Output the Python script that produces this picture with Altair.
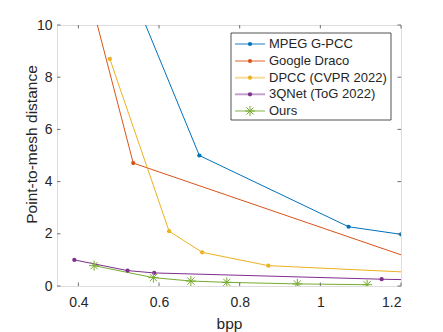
import altair as alt
import pandas as pd

series_names = ["MPEG G-PCC", "Google Draco", "DPCC (CVPR 2022)", "3QNet (ToG 2022)", "Ours"]
colors = ["#0072BD", "#D95319", "#EDB120", "#7E2F8E", "#77AC30"]

gpcc_bpp = [0.50, 0.70, 1.07, 1.20]
gpcc_dist = [12.5, 5.00, 2.27, 1.98]
draco_bpp = [0.40, 0.536, 1.35]
draco_dist = [12.8, 4.71, 0.40]
dpcc_bpp = [0.478, 0.625, 0.707, 0.871, 1.30]
dpcc_dist = [8.70, 2.10, 1.29, 0.78, 0.47]
qnet_bpp = [0.39, 0.522, 0.588, 1.152, 1.35]
qnet_dist = [1.00, 0.59, 0.50, 0.26, 0.20]
ours_bpp = [0.439, 0.586, 0.679, 0.768, 0.943, 1.116]
ours_dist = [0.78, 0.32, 0.19, 0.14, 0.08, 0.05]

x_ticks = [0.4, 0.6, 0.8, 1.0, 1.2]
y_ticks = [0, 2, 4, 6, 8, 10]

W, H = 344, 261
FONT = "Liberation Sans"
TXT = "#262626"
AX = "#6e6e6e"
STAR = "M0,-1L0,1M-1,0L1,0M-0.72,-0.72L0.72,0.72M-0.72,0.72L0.72,-0.72"

rows = []
for name, xs, ys in [
    (series_names[0], gpcc_bpp, gpcc_dist),
    (series_names[1], draco_bpp, draco_dist),
    (series_names[2], dpcc_bpp, dpcc_dist),
    (series_names[3], qnet_bpp, qnet_dist),
    (series_names[4], ours_bpp, ours_dist),
]:
    for i, (a, b) in enumerate(zip(xs, ys)):
        rows.append({"series": name, "bpp": a, "dist": b, "ord": i})
df = pd.DataFrame(rows)

xscale = alt.Scale(domain=[0.347, 1.2], nice=False, zero=False)
yscale = alt.Scale(domain=[0, 10], nice=False)
cscale = alt.Scale(domain=series_names, range=colors)

xaxis = alt.Axis(values=x_ticks, format="~g", tickSize=0, domain=False, grid=False,
                 labelFont=FONT, labelFontSize=14, labelColor=TXT, labelPadding=9,
                 title="bpp", titleFont=FONT, titleFontSize=15.5, titleFontWeight="normal",
                 titleColor=TXT, titleY=37, titleBaseline="middle")
yaxis = alt.Axis(values=y_ticks, tickSize=0, domain=False, grid=False,
                 labelFont=FONT, labelFontSize=14, labelColor=TXT, labelPadding=5,
                 title="Point-to-mesh distance", titleFont=FONT, titleFontSize=15.5,
                 titleFontWeight="normal", titleColor=TXT, titleX=-26, titleY=119,
                 titleAngle=270, titleAlign="center", titleBaseline="middle")

base = alt.Chart(df)
lines = base.mark_line(clip=True, strokeWidth=1).encode(
    x=alt.X("bpp:Q", scale=xscale, axis=xaxis),
    y=alt.Y("dist:Q", scale=yscale, axis=yaxis),
    color=alt.Color("series:N", scale=cscale, legend=None),
    order="ord:Q",
    detail="series:N",
)
dots = base.transform_filter(alt.datum.series != "Ours").mark_circle(clip=True, size=18, opacity=1).encode(
    x="bpp:Q", y="dist:Q", color=alt.Color("series:N", scale=cscale, legend=None)
)
stars = base.transform_filter(alt.datum.series == "Ours").mark_point(
    clip=True, shape=STAR, size=100, filled=False, strokeWidth=1, opacity=1
).encode(x="bpp:Q", y="dist:Q", color=alt.Color("series:N", scale=cscale, legend=None))

xt = pd.DataFrame({"v": x_ticks})
yt = pd.DataFrame({"v": y_ticks})
tk = 3.5
ticks = [
    alt.Chart(xt).mark_rule(color=AX, strokeWidth=1).encode(x="v:Q", y=alt.value(H), y2=alt.value(H - tk)),
    alt.Chart(xt).mark_rule(color=AX, strokeWidth=1).encode(x="v:Q", y=alt.value(0), y2=alt.value(tk)),
    alt.Chart(yt).mark_rule(color=AX, strokeWidth=1).encode(y="v:Q", x=alt.value(0), x2=alt.value(tk)),
    alt.Chart(yt).mark_rule(color=AX, strokeWidth=1).encode(y="v:Q", x=alt.value(W), x2=alt.value(W - tk)),
]

# legend
leg = pd.DataFrame({"series": series_names})
box = alt.Chart(leg.head(1)).mark_rect(fill="white", stroke=TXT, strokeWidth=0.8).encode(
    x=alt.value(174), x2=alt.value(334), y=alt.value(8), y2=alt.value(95)
)
legend_layers = [box]
row_y = [19, 36, 52.7, 69.3, 86]
for name, col, yy in zip(series_names, colors, row_y):
    d = pd.DataFrame({"series": [name]})
    legend_layers.append(
        alt.Chart(d).mark_rule(color=col, strokeWidth=2, opacity=0.45).encode(
            x=alt.value(178), x2=alt.value(208), y=alt.value(yy))
    )
    if name == "Ours":
        legend_layers.append(
            alt.Chart(d).mark_point(shape=STAR, size=100, filled=False, strokeWidth=1, color=col, opacity=1).encode(
                x=alt.value(193), y=alt.value(yy))
        )
    else:
        legend_layers.append(
            alt.Chart(d).mark_circle(size=18, color=col, opacity=1).encode(x=alt.value(193), y=alt.value(yy))
        )
    legend_layers.append(
        alt.Chart(d).mark_text(align="left", baseline="middle", font=FONT, fontSize=13, color=TXT).encode(
            x=alt.value(212), y=alt.value(yy), text="series:N")
    )

chart = alt.layer(lines, dots, stars, *ticks, *legend_layers).properties(
    width=W, height=H,
    autosize=alt.AutoSizeParams(type="none"),
    padding={"left": 49, "top": 17, "right": 26, "bottom": 46},
).configure_view(stroke=AX, strokeWidth=1).configure(background="white")

chart.save("out.html", embed_options={"renderer": "svg", "actions": False})
